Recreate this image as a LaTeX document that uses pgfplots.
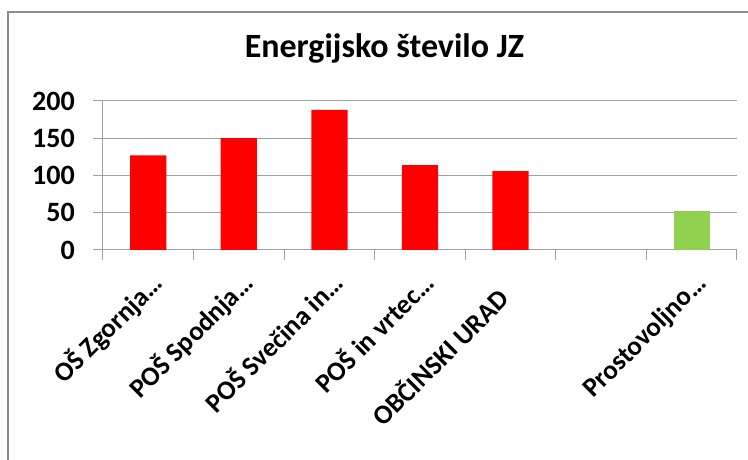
\documentclass[border=0pt]{standalone}
\usepackage{pgfplots}
\pgfplotsset{compat=1.18}
\usepackage{fontspec}
\setmainfont{Carlito}
\definecolor{gridgray}{HTML}{A0A0A0}
\definecolor{framegray}{HTML}{8C8C8C}
\definecolor{barred}{HTML}{FF0000}
\definecolor{bargreen}{HTML}{92D050}
\begin{document}
\begin{tikzpicture}
\useasboundingbox (-103pt,-210pt) rectangle (645pt,250pt);
\draw[framegray, line width=1.2pt] (-95pt,-230pt) -- (-95pt,238pt) -- (660pt,238pt);
\node[anchor=base, font=\fontsize{34}{34}\selectfont\bfseries] at (281.5pt,192pt) {Energijsko število JZ};
\begin{axis}[
  at={(0pt,0pt)}, anchor=south west,
  scale only axis, width=634pt, height=149pt,
  xmin=-0.5, xmax=6.5, ymin=0, ymax=200,
  axis x line*=bottom, axis y line*=left,
  axis line style={gridgray, line width=1pt},
  tick align=outside,
  tick style={gridgray, line width=1pt},
  major tick length=10pt,
  ytick={0,50,100,150,200},
  ymajorgrids, grid style={gridgray, line width=1pt},
  /pgf/number format/assume math mode=true,
  yticklabel style={font=\fontsize{28}{28}\selectfont\bfseries, anchor=east, inner sep=0pt, xshift=-18pt},
  xtick={-0.5,0.5,1.5,2.5,3.5,4.5,5.5,6.5},
  xticklabels={},
  extra x ticks={0,1,2,3,4,5,6},
  extra x tick labels={OŠ Zgornja…, POŠ Spodnja…, POŠ Svečina in…, POŠ in vrtec…, OBČINSKI URAD\hspace*{22pt}, {}, Prostovoljno…},
  extra x tick style={major tick length=0pt, xmajorgrids=false,
    xticklabel style={font=\fontsize{27}{27}\selectfont\bfseries, inner sep=0pt, xshift=16pt, yshift=-35pt, rotate=45, anchor=base east}},
  clip=false,
]
\addplot[ybar, bar width=0.4, bar shift=0pt, fill=barred, draw=none] coordinates {(0,127) (1,150) (2,188) (3,114) (4,106)};
\addplot[ybar, bar width=0.4, bar shift=0pt, fill=bargreen, draw=none] coordinates {(6,53)};
\end{axis}
\end{tikzpicture}
\end{document}
